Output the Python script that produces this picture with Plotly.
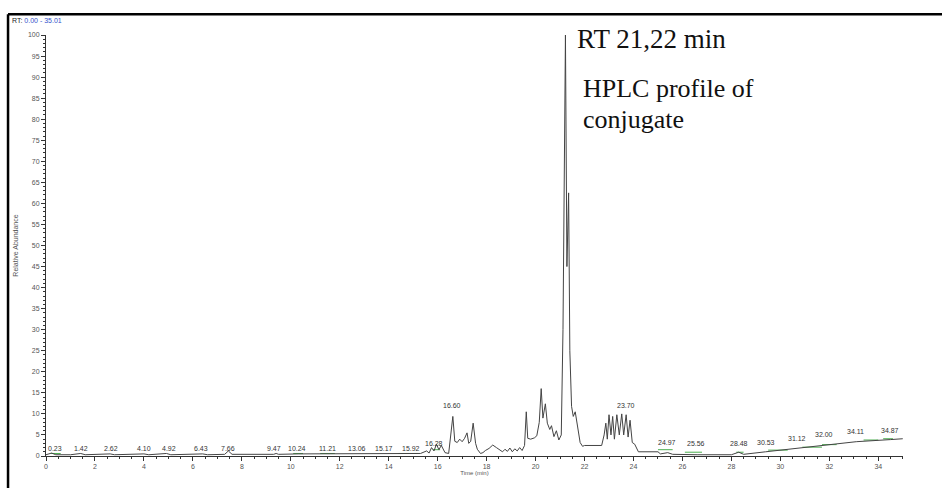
import plotly.graph_objects as go

# ---- chromatogram trace (retention time, relative abundance) ----
rt = [0.0, 0.23, 0.4, 1.0, 1.42, 1.6, 2.62, 2.8, 4.0, 4.2, 4.92, 5.1, 6.4, 6.6, 7.3, 7.45, 7.6,
      9.3, 9.4, 9.5, 10.3, 11.5, 12.7, 13.8, 14.9, 15.3, 15.55, 15.65, 15.75, 15.85, 15.95,
      16.05, 16.15, 16.3, 16.45, 16.55, 16.62, 16.7, 16.8, 16.9, 17.0, 17.1, 17.2, 17.27,
      17.35, 17.45, 17.55, 17.62, 17.75, 17.85, 17.95, 18.1, 18.25, 18.4, 18.55, 18.65,
      18.75, 18.85, 18.95, 19.05, 19.15, 19.25, 19.35, 19.45, 19.55, 19.62, 19.68, 19.8,
      19.95, 20.05, 20.15, 20.23, 20.3, 20.4, 20.48, 20.58, 20.65, 20.75, 20.85, 20.95,
      21.05, 21.12, 21.22, 21.28, 21.35, 21.4, 21.47, 21.54, 21.62, 21.72, 21.82, 21.92, 22.0,
      22.7, 22.8, 22.87, 22.93, 23.0, 23.08, 23.15, 23.22, 23.32, 23.42, 23.52, 23.6, 23.7,
      23.78, 23.86, 23.95, 24.05, 24.2, 25.0, 25.1, 25.4, 25.6, 26.6, 28.0, 28.3, 28.5,
      29.4, 30.7, 31.8, 33.1, 34.5, 35.0]
abundance = [0.3, 0.7, 0.3, 0.3, 0.6, 0.3, 0.5, 0.3, 0.5, 0.3, 0.6, 0.3, 0.5, 0.3, 0.4, 1.2, 0.4,
             0.4, 0.6, 0.4, 0.5, 0.5, 0.5, 0.5, 0.6, 0.6, 1.2, 0.7, 2.0, 1.2, 2.8,
             1.5, 2.5, 0.8, 0.6, 5.0, 9.4, 3.5, 3.2, 4.0, 3.4, 4.2, 5.5, 3.0,
             3.5, 7.8, 3.0, 1.6, 0.6, 0.8, 1.3, 1.8, 2.6, 2.0, 1.3, 1.0,
             1.6, 1.1, 1.9, 1.0, 1.7, 1.2, 2.0, 1.3, 2.5, 10.5, 4.2, 4.0,
             4.3, 4.8, 8.0, 16.0, 9.0, 12.4, 7.8, 6.3, 7.2, 4.6, 6.0, 3.8,
             5.0, 30.0, 100.0, 45.0, 62.5, 25.0, 11.8, 9.4, 10.5, 6.8, 3.2, 2.3, 2.5,
             2.5, 5.0, 7.8, 4.0, 9.8, 5.0, 9.4, 4.0, 9.8, 5.0, 10.0, 5.0, 9.8,
             4.5, 8.5, 3.2, 2.8, 1.0, 1.0, 0.5, 0.8, 0.4, 0.3, 0.3, 0.9, 0.4,
             1.0, 1.8, 2.6, 3.4, 3.9, 4.1]

# ---- peak labels ----
label_text = ["0.23", "1.42", "2.62", "4.10", "4.92", "6.43", "7.66", "9.47", "10.24", "11.21",
              "13.06", "15.17", "15.92", "16.28", "16.60", "23.70", "24.97", "25.56", "28.48",
              "30.53", "31.12", "32.00", "34.11", "34.87"]
label_rt = [0.36, 1.42, 2.67, 4.01, 5.03, 6.34, 7.44, 9.33, 10.27, 11.48,
            12.72, 13.82, 14.92, 15.87, 16.6, 23.71, 25.36, 26.57, 28.3,
            29.4, 30.66, 31.78, 33.08, 34.48]
label_level = [0.4, 0.4, 0.4, 0.4, 0.4, 0.4, 0.4, 0.4, 0.4, 0.4,
               0.4, 0.4, 0.4, 1.7, 10.6, 10.6, 2.0, 1.6, 1.6,
               2.0, 2.8, 3.9, 4.5, 4.8]

# ---- green integration baselines ----
green_start = [0.2, 10.1, 11.2, 14.4, 15.8, 25.0, 26.1, 28.2, 29.5, 30.9, 31.7, 33.4, 34.2]
green_end = [0.6, 10.5, 11.8, 15.2, 16.1, 25.6, 26.8, 28.5, 30.3, 31.7, 32.3, 34.0, 34.6]
green_level = [0.6, 0.6, 0.6, 0.6, 1.5, 1.5, 0.9, 0.9, 1.4, 2.1, 2.7, 3.8, 4.1]

x_ticks = list(range(0, 35, 2))
y_ticks = list(range(0, 101, 5))

gx, gy = [], []
for s, e, lv in zip(green_start, green_end, green_level):
    gx += [s, e, None]
    gy += [lv, lv, None]

fig = go.Figure()
fig.add_trace(go.Scatter(x=gx, y=gy, mode="lines",
                         line=dict(color="#4caf50", width=1), hoverinfo="skip"))
fig.add_trace(go.Scatter(x=rt, y=abundance, mode="lines",
                         line=dict(color="#444444", width=1)))

for t, lv, txt in zip(label_rt, label_level, label_text):
    fig.add_annotation(x=t, y=lv, text=txt, showarrow=False, yanchor="bottom",
                       xanchor="center", font=dict(family="Liberation Sans", size=7, color="#333333"))

ann_font = dict(family="Liberation Serif", color="#111111")
fig.add_annotation(xref="paper", yref="paper", x=0.617, y=0.991, xanchor="left", yanchor="middle",
                   text="RT 21,22 min", showarrow=False, font=dict(size=27, **ann_font))
fig.add_annotation(xref="paper", yref="paper", x=0.624, y=0.872, xanchor="left", yanchor="middle",
                   text="HPLC profile of", showarrow=False, font=dict(size=26, **ann_font))
fig.add_annotation(xref="paper", yref="paper", x=0.624, y=0.799, xanchor="left", yanchor="middle",
                   text="conjugate", showarrow=False, font=dict(size=26, **ann_font))
fig.add_annotation(xref="paper", yref="paper", x=-0.042, y=1.035, xanchor="left", yanchor="middle",
                   text='RT: <span style="color:#3355cc">0.00 - 35.01</span>', showarrow=False,
                   font=dict(family="Liberation Sans", size=7, color="#222222"))

# frame lines (top and left)
fig.add_shape(type="line", xref="paper", yref="paper", x0=-0.0443, x1=1.06, y0=1.049, y1=1.049,
              line=dict(color="black", width=2.5))
fig.add_shape(type="line", xref="paper", yref="paper", x0=-0.0443, x1=-0.0443, y0=1.049, y1=-0.08,
              line=dict(color="black", width=2.5))

tick_font = dict(family="Liberation Sans", size=7, color="#555555")
fig.update_layout(
    width=942, height=488,
    margin=dict(l=46, r=39, t=35, b=26),
    paper_bgcolor="white", plot_bgcolor="white",
    showlegend=False,
    xaxis=dict(range=[0, 35.01], tickvals=x_ticks, ticks="outside", ticklen=4, tickwidth=1,
               tickcolor="#333", showline=True, linecolor="#333", linewidth=1, showgrid=False,
               zeroline=False, tickfont=tick_font,
               minor=dict(dtick=0.5, ticks="outside", ticklen=2, tickcolor="#333"),
               title=dict(text="Time (min)", font=dict(family="Liberation Sans", size=6, color="#555"),
                          standoff=1)),
    yaxis=dict(range=[0, 100], tickvals=y_ticks, ticks="outside", ticklen=4, tickwidth=1,
               tickcolor="#333", showline=True, linecolor="#333", linewidth=1, showgrid=False,
               zeroline=False, tickfont=tick_font,
               minor=dict(dtick=1, ticks="outside", ticklen=2, tickcolor="#333"),
               title=dict(text="Relative Abundance", font=dict(family="Liberation Sans", size=7, color="#555"),
                          standoff=8)),
)

fig.write_html("out.html", config={"displayModeBar": False},
               post_script="document.body.style.margin='0';document.body.style.overflow='hidden';")
